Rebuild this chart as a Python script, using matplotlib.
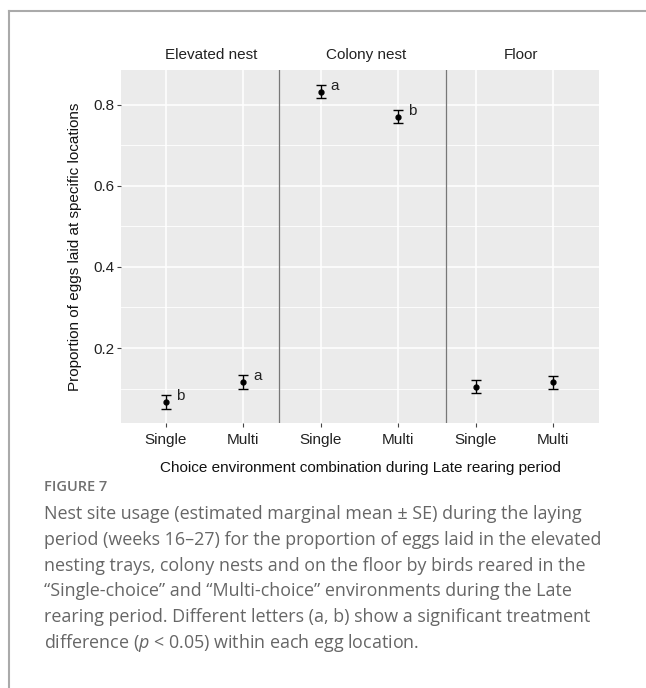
import matplotlib
matplotlib.use('Agg')
import matplotlib.pyplot as plt
import numpy as np
from matplotlib.lines import Line2D
from matplotlib.transforms import blended_transform_factory

# Estimated marginal means and SE for each egg location x rearing treatment
locations = ['Elevated nest', 'Colony nest', 'Floor']
treatments = ['Single', 'Multi']
emm = [0.067, 0.116, 0.832, 0.770, 0.104, 0.116]
se = [0.017, 0.017, 0.016, 0.016, 0.016, 0.016]
letters = ['b', 'a', 'a', 'b', '', '']

caption_lines = [
    'Nest site usage (estimated marginal mean \u00b1 SE) during the laying',
    'period (weeks 16\u201327) for the proportion of eggs laid in the elevated',
    'nesting trays, colony nests and on the floor by birds reared in the',
    '\u201cSingle-choice\u201d and \u201cMulti-choice\u201d environments during the Late',
    'rearing period. Different letters (a, b) show a significant treatment',
    r'difference ($\it{p}$ < 0.05) within each egg location.',
]

plt.rcParams['font.family'] = ['Liberation Sans', 'DejaVu Sans']
plt.rcParams['mathtext.fontset'] = 'custom'
plt.rcParams['mathtext.rm'] = 'Open Sans'
plt.rcParams['mathtext.it'] = 'Open Sans:italic'

fig = plt.figure(figsize=(6.46, 6.88), dpi=100)
ax = fig.add_axes([0.1873, 0.3852, 0.7399, 0.5131])

x = np.arange(len(emm))
ax.set_facecolor('#ebebeb')
ax.set_xlim(-0.58, 5.59)
ax.set_ylim(0.015, 0.886)

ax.set_yticks([0.2, 0.4, 0.6, 0.8])
ax.set_yticklabels(['0.2', '0.4', '0.6', '0.8'])
ax.set_yticks([0.1, 0.3, 0.5, 0.7], minor=True)
ax.set_xticks(x)
ax.set_xticklabels(treatments * len(locations))
ax.grid(which='major', color='white', lw=1.1)
ax.grid(which='minor', axis='y', color='white', lw=0.6)
ax.set_axisbelow(True)
for s in ax.spines.values():
    s.set_visible(False)
ax.tick_params(axis='both', which='major', length=3, width=0.8, color='#444444',
               labelsize=11, labelcolor='#222222', pad=2)
ax.tick_params(axis='x', pad=4)
ax.tick_params(which='minor', length=0)

# panel separators
for sx in [1.46, 3.61]:
    ax.axvline(sx, color='#777777', lw=0.9, zorder=1)

ax.errorbar(x, emm, yerr=se, fmt='o', color='black', ms=3.5, capsize=3.5,
            elinewidth=1, capthick=1, zorder=3)
for xi, yi, lab in zip(x, emm, letters):
    if lab:
        ax.annotate(lab, (xi, yi), xytext=(7, 4), textcoords='offset points',
                    ha='left', va='center', fontsize=11, color='#222222')

trans = blended_transform_factory(ax.transData, ax.transAxes)
for i, loc in enumerate(locations):
    ax.text(2 * i + 0.58, 1.042, loc, transform=trans, ha='center', va='center',
            fontsize=11, color='#222222')

ax.set_xlabel('Choice environment combination during Late rearing period',
              fontsize=11, color='#111111', labelpad=10)
ax.set_ylabel('Proportion of eggs laid at specific locations',
              fontsize=11, color='#111111', labelpad=8)

# caption block with frame
fig.add_artist(Line2D([9 / 646, 1], [1 - 11 / 688] * 2, transform=fig.transFigure,
                      color='#aaaaaa', lw=1.5))
fig.add_artist(Line2D([9 / 646] * 2, [0, 1 - 11 / 688], transform=fig.transFigure,
                      color='#aaaaaa', lw=1.5))
fig.text(44 / 646, 1 - 487 / 688, 'FIGURE 7', fontsize=10.5, color='#707070',
         family='Open Sans', weight='semibold', va='center')
for i, line in enumerate(caption_lines):
    fig.text(44 / 646, 1 - (514 + i * 25.8) / 688, line, fontsize=12.9,
             color='#666666', family='Open Sans', va='center')

fig.savefig('out.png', dpi=100)
